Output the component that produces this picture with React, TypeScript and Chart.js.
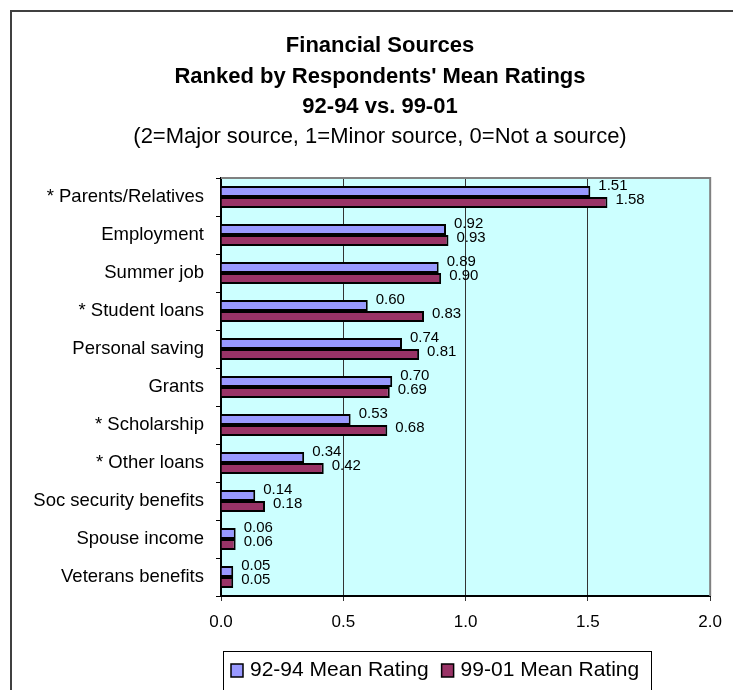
import React, { useEffect, useRef } from "react";
import { Chart, registerables } from "chart.js";

Chart.register(...registerables);

const categories = [
  "* Parents/Relatives",
  "Employment",
  "Summer job",
  "* Student loans",
  "Personal saving",
  "Grants",
  "* Scholarship",
  "* Other loans",
  "Soc security benefits",
  "Spouse income",
  "Veterans benefits",
];
const rating9294 = [1.51, 0.92, 0.89, 0.6, 0.74, 0.7, 0.53, 0.34, 0.14, 0.06, 0.05];
const rating9901 = [1.58, 0.93, 0.9, 0.83, 0.81, 0.69, 0.68, 0.42, 0.18, 0.06, 0.05];
const seriesLabels = ["92-94 Mean Rating", "99-01 Mean Rating"];
const seriesColors = ["#9999FF", "#993366"];
const titleLines = ["Financial Sources", "Ranked by Respondents' Mean Ratings", "92-94 vs. 99-01"];
const subtitleLine = "(2=Major source, 1=Minor source, 0=Not a source)";
const xMin = 0;
const xMax = 2;
const xStep = 0.5;

const FONT = "'Liberation Sans', Arial, Helvetica, sans-serif";

const decorPlugin = {
  id: "decor",
  beforeDraw(chart: any) {
    const { ctx, chartArea: a } = chart;
    ctx.save();
    ctx.fillStyle = "#ffffff";
    ctx.fillRect(0, 0, chart.width, chart.height);
    ctx.fillStyle = "#CCFFFF";
    ctx.fillRect(a.left, a.top, a.right - a.left, a.bottom - a.top);
    ctx.restore();
  },
  afterDraw(chart: any) {
    const { ctx, chartArea: a } = chart;
    ctx.save();
    // plot top / right border
    ctx.strokeStyle = "#808080";
    ctx.lineWidth = 2;
    ctx.beginPath();
    ctx.moveTo(a.left, a.top);
    ctx.lineTo(a.right, a.top);
    ctx.lineTo(a.right, a.bottom);
    ctx.stroke();
    // outer chart frame
    ctx.strokeStyle = "#404040";
    ctx.lineWidth = 2;
    ctx.beginPath();
    ctx.moveTo(11, chart.height + 5);
    ctx.lineTo(11, 11);
    ctx.lineTo(chart.width + 5, 11);
    ctx.stroke();

    // titles
    const cx = 380;
    ctx.fillStyle = "#000";
    ctx.textAlign = "center";
    ctx.textBaseline = "middle";
    ctx.font = `bold 22px ${FONT}`;
    const ys = [46, 77, 107];
    titleLines.forEach((t, i) => ctx.fillText(t, cx, ys[i]));
    ctx.font = `22px ${FONT}`;
    ctx.fillText(subtitleLine, cx, 137);

    // legend
    const lx = 223, ly = 651, lw = 428, lh = 60;
    ctx.strokeStyle = "#000";
    ctx.lineWidth = 1;
    ctx.strokeRect(lx + 0.5, ly + 0.5, lw, lh);
    ctx.font = `21px ${FONT}`;
    ctx.textAlign = "left";
    let x = 231;
    const my = 664;
    chart.data.datasets.forEach((ds: any) => {
      ctx.fillStyle = ds.backgroundColor;
      ctx.fillRect(x, my, 12, 13);
      ctx.strokeStyle = "#000";
      ctx.lineWidth = 1.5;
      ctx.strokeRect(x, my, 12, 13);
      ctx.fillStyle = "#000";
      ctx.fillText(ds.label, x + 19, 670);
      x = x + 19 + ctx.measureText(ds.label).width + 13;
    });
    ctx.restore();
  },
  afterDatasetsDraw(chart: any) {
    const { ctx } = chart;
    ctx.save();
    ctx.font = `15px ${FONT}`;
    ctx.fillStyle = "#000";
    ctx.textAlign = "left";
    ctx.textBaseline = "middle";
    chart.data.datasets.forEach((ds: any, i: number) => {
      const meta = chart.getDatasetMeta(i);
      meta.data.forEach((el: any, j: number) => {
        const v = ds.data[j];
        ctx.fillText(Number(v).toFixed(2), el.x + 8, el.y + (i === 0 ? -6 : -3));
      });
    });
    ctx.restore();
  },
};

export default function App() {
  const ref = useRef<HTMLCanvasElement | null>(null);
  useEffect(() => {
    if (!ref.current) return;
    const chart = new Chart(ref.current, {
      type: "bar",
      data: {
        labels: categories,
        datasets: [
          {
            label: seriesLabels[0],
            data: rating9294,
            backgroundColor: seriesColors[0],
            borderColor: "#000",
            borderWidth: 2,
            categoryPercentage: 0.58,
            barPercentage: 1,
          },
          {
            label: seriesLabels[1],
            data: rating9901,
            backgroundColor: seriesColors[1],
            borderColor: "#000",
            borderWidth: 2,
            categoryPercentage: 0.58,
            barPercentage: 1,
          },
        ],
      },
      options: {
        indexAxis: "y",
        responsive: false,
        animation: false,
        devicePixelRatio: 1,
        layout: { padding: { top: 178, left: 10, right: 22, bottom: 0 } },
        plugins: {
          legend: { display: false },
          title: { display: false },
          tooltip: { enabled: false },
        },
        scales: {
          x: {
            type: "linear",
            min: xMin,
            max: xMax,
            ticks: {
              stepSize: xStep,
              color: "#000",
              font: { family: FONT, size: 17 },
              padding: 11,
              callback: (v: any) => Number(v).toFixed(1),
            },
            grid: {
              color: "#333",
              lineWidth: 1,
              tickLength: 5,
              drawTicks: true,
            },
            border: { color: "#000", width: 2 },
            afterFit: (s: any) => {
              s.height = 94;
            },
          },
          y: {
            type: "category",
            ticks: {
              color: "#000",
              font: { family: FONT, size: 18.5 },
              padding: 12,
              autoSkip: false,
            },
            grid: {
              drawOnChartArea: false,
              drawTicks: true,
              tickLength: 5,
              color: "#000",
              offset: true,
            },
            border: { color: "#000", width: 2 },
            afterFit: (s: any) => {
              s.width = 211;
            },
          },
        },
      },
      plugins: [decorPlugin],
    } as any);
    return () => chart.destroy();
  }, []);
  return (
    <div style={{ position: "absolute", left: 0, top: 0, width: 733, height: 690, background: "#fff" }}>
      <canvas ref={ref} width={733} height={690} style={{ display: "block" }} />
    </div>
  );
}
